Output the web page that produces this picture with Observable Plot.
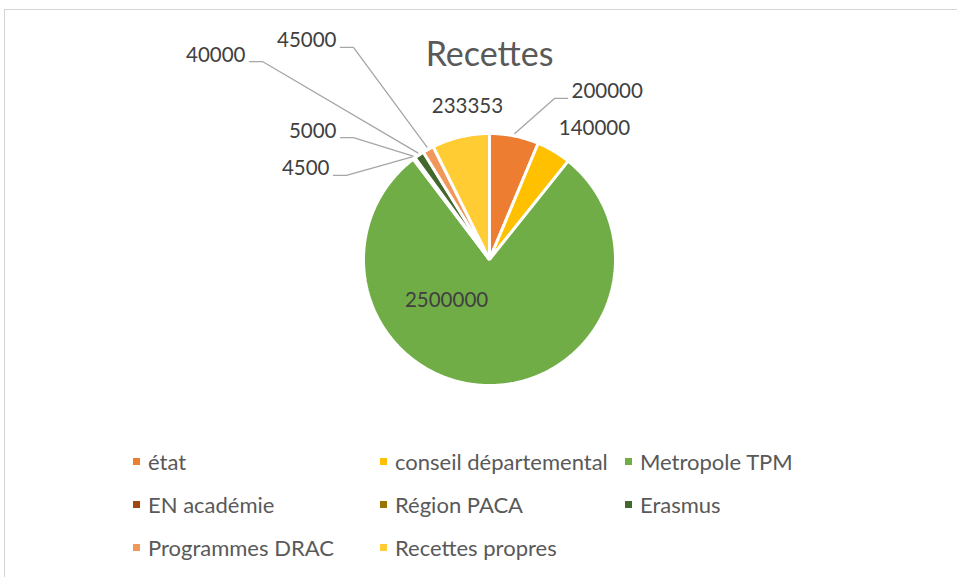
<!DOCTYPE html>
<html>
<head>
<meta charset="utf-8">
<script src="https://cdn.jsdelivr.net/npm/d3@7"></script>
<script src="https://cdn.jsdelivr.net/npm/@observablehq/plot@0.6"></script>
<style>
  html, body { margin: 0; padding: 0; background: #fff; width: 957px; height: 577px; overflow: hidden; }
  #frame { position: absolute; left: 4px; top: 9px; width: 1200px; height: 800px;
           border-left: 1px solid #d4d4d4; border-top: 1.5px solid #d4d4d4; }
  #chart { position: absolute; left: 0; top: 0; }
  #legend { position: absolute; left: 133px; top: 440px; display: grid;
            grid-template-columns: 247px 245px 245px; grid-auto-rows: 43px;
            font-family: Lato, "Noto Sans", sans-serif; font-size: 22px; color: #595959; }
  .item { display: flex; align-items: center; white-space: nowrap; }
  .sw { width: 7px; height: 7px; margin-right: 8px; flex: none; }
</style>
</head>
<body>
<div id="frame"></div>
<div id="chart"></div>
<div id="legend"></div>
<script>
// ---- data ----
const categories = ["état", "conseil départemental", "Metropole TPM", "EN académie",
                    "Région PACA", "Erasmus", "Programmes DRAC", "Recettes propres"];
const values = [200000, 140000, 2500000, 4500, 5000, 40000, 45000, 233353];
const colors = ["#ED7D31", "#FFC000", "#70AD47", "#9E480E", "#997300", "#43682B", "#F1975A", "#FFCD33"];
const chartTitle = "Recettes";

// ---- layout (pie radius units, y up, relative to pie centre) ----
const W = 957, H = 440, R = 126, CX = 489, CY = 259;
const labelLayout = {
  "état":                  {kind: "leader", side: 1,  x: 0.619,  y: 1.278},
  "conseil départemental": {kind: "free",   x: 0.833,  y: 1.04},
  "Metropole TPM":         {kind: "free",   x: -0.341, y: -0.325},
  "EN académie":           {kind: "leader", side: -1, x: -1.238, y: 0.667},
  "Région PACA":           {kind: "leader", side: -1, x: -1.183, y: 0.968},
  "Erasmus":               {kind: "leader", side: -1, x: -1.905, y: 1.571},
  "Programmes DRAC":       {kind: "leader", side: -1, x: -1.183, y: 1.683},
  "Recettes propres":      {kind: "free",   x: -0.175, y: 1.214}
};

// ---- pie geometry from data ----
const rows = categories.map((c, i) => ({cat: c, value: values[i]}));
const arcs = d3.pie().sort(null).value(d => d.value).startAngle(0).endAngle(2 * Math.PI)(rows);
const slicePts = [];
arcs.forEach(a => {
  const cat = a.data.cat;
  slicePts.push({cat, x: 0, y: 0});
  const n = Math.max(2, Math.ceil((a.endAngle - a.startAngle) / (Math.PI / 360)));
  for (let k = 0; k <= n; k++) {
    const t = a.startAngle + (a.endAngle - a.startAngle) * k / n;
    slicePts.push({cat, x: Math.sin(t), y: Math.cos(t)});
  }
});

const fmt = v => String(v);
const leaderPts = [];
const labelsStart = [], labelsEnd = [], labelsMid = [];
arcs.forEach(a => {
  const cat = a.data.cat, L = labelLayout[cat];
  const mid = (a.startAngle + a.endAngle) / 2;
  if (L.kind === "leader") {
    leaderPts.push({cat, x: 1.02 * Math.sin(mid), y: 1.02 * Math.cos(mid)});
    leaderPts.push({cat, x: L.x - L.side * 13 / R, y: L.y});
    leaderPts.push({cat, x: L.x, y: L.y});
    const lab = {cat, text: fmt(a.data.value), x: L.x + L.side * 4 / R, y: L.y};
    (L.side > 0 ? labelsStart : labelsEnd).push(lab);
  } else {
    labelsMid.push({cat, text: fmt(a.data.value), x: L.x, y: L.y});
  }
});

const plot = Plot.plot({
  width: W, height: H, margin: 0,
  x: {domain: [-CX / R, (W - CX) / R], axis: null},
  y: {domain: [-(H - CY) / R, CY / R], axis: null},
  color: {domain: categories, range: colors},
  style: {fontFamily: "Lato, 'Noto Sans', sans-serif", background: "transparent"},
  marks: [
    Plot.line(slicePts, {x: "x", y: "y", z: "cat", fill: "cat", stroke: "white",
                         strokeWidth: 3, strokeLinejoin: "miter", curve: "linear-closed"}),
    Plot.line(leaderPts, {x: "x", y: "y", z: "cat", stroke: "#a6a6a6", strokeWidth: 1.3}),
    Plot.text(labelsStart, {x: "x", y: "y", text: "text", textAnchor: "start", lineAnchor: "bottom",
                            fontSize: 20.5, fill: "#404040"}),
    Plot.text(labelsEnd, {x: "x", y: "y", text: "text", textAnchor: "end", lineAnchor: "bottom",
                          fontSize: 20.5, fill: "#404040"}),
    Plot.text(labelsMid, {x: "x", y: "y", text: "text", textAnchor: "middle", lineAnchor: "middle",
                          fontSize: 20.5, fill: "#404040"}),
    Plot.text([chartTitle], {frameAnchor: "top", lineAnchor: "top", dx: 10.5, dy: 41,
                             fontSize: 34, fill: "#595959"})
  ]
});
document.getElementById("chart").appendChild(plot);

// ---- legend ----
const legend = document.getElementById("legend");
categories.forEach((c, i) => {
  const it = document.createElement("div");
  it.className = "item";
  const sw = document.createElement("span");
  sw.className = "sw";
  sw.style.background = colors[i];
  it.appendChild(sw);
  it.appendChild(document.createTextNode(c));
  legend.appendChild(it);
});
</script>
</body>
</html>
